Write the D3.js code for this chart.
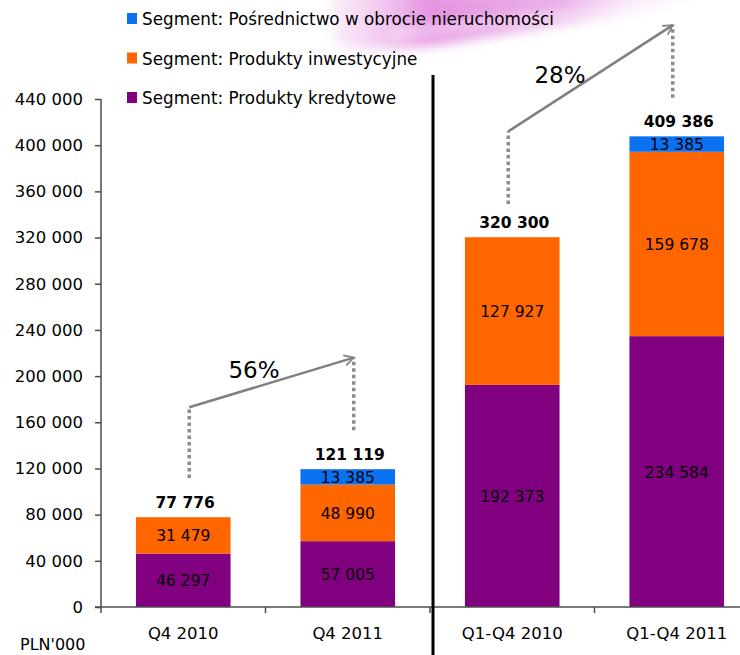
<!DOCTYPE html>
<html>
<head>
<meta charset="utf-8">
<script src="https://cdn.jsdelivr.net/npm/d3@7"></script>
<style>
  body { margin: 0; background: #fff; }
  text { font-family: "DejaVu Sans", sans-serif; }
</style>
</head>
<body>
<script>
//chart data
var categories = ["Q4 2010", "Q4 2011", "Q1-Q4 2010", "Q1-Q4 2011"];
var seriesNames = ["Segment: Produkty kredytowe", "Segment: Produkty inwestycyjne", "Segment: Pośrednictwo w obrocie nieruchomości"];
var kredytowe = [46297, 57005, 192373, 234584];
var inwestycyjne = [31479, 48990, 127927, 159678];
var posrednictwo = [0, 13385, 0, 13385];
var totals = ["77 776", "121 119", "320 300", "409 386"];
var yTicks = [0, 40000, 80000, 120000, 160000, 200000, 240000, 280000, 320000, 360000, 400000, 440000];
var colors = ["#800080", "#ff6600", "#0a72f0"];

//growth annotations: bar pair, dotted stem [bottom, top] on each bar (in PLN'000 units)
var growthLabels = ["56%", "28%"];
var growthPairs = [[0, 1], [2, 3]];
var growthFrom = [[111700, 173000], [349000, 412000]];
var growthTo = [[153000, 216000], [441000, 504000]];

var width = 740,
    height = 655;

var svg = d3.select("body")
    .append("svg")
    .attr("width", width)
    .attr("height", height);

var defs = svg.append("defs");

//soft pink swoosh along the top edge
var blur = defs.append("filter").attr("id", "blur")
    .attr("x", "-50%").attr("y", "-50%").attr("width", "200%").attr("height", "200%");
blur.append("feGaussianBlur").attr("stdDeviation", 6);

var grad = defs.append("linearGradient").attr("id", "swoosh")
    .attr("x1", "0").attr("y1", "0").attr("x2", "1").attr("y2", "0");
grad.append("stop").attr("offset", "0%").attr("stop-color", "#f5d3f2").attr("stop-opacity", 0.4);
grad.append("stop").attr("offset", "25%").attr("stop-color", "#e48ee0").attr("stop-opacity", 0.95);
grad.append("stop").attr("offset", "60%").attr("stop-color", "#e7a2e4").attr("stop-opacity", 0.85);
grad.append("stop").attr("offset", "100%").attr("stop-color", "#fbe8fa").attr("stop-opacity", 0);

svg.append("path")
    .attr("d", "M330,-10 L720,-10 C660,8 570,22 480,38 C430,47 380,52 335,46 Z")
    .attr("fill", "url(#swoosh)")
    .attr("filter", "url(#blur)");
svg.append("path")
    .attr("d", "M390,34 C470,26 560,16 650,4")
    .attr("fill", "none")
    .attr("stroke", "#fff")
    .attr("stroke-width", 6)
    .attr("opacity", 0.8)
    .attr("filter", "url(#blur)");

//scales
var y = d3.scaleLinear()
    .domain([0, 440000])
    .range([607, 99]);

var x = d3.scaleBand()
    .domain(categories)
    .range([101, 759])
    .paddingInner(0)
    .paddingOuter(0);

var barW = x.bandwidth() * 0.575;

//stack the series
var rows = categories.map(function(c, i){
    return { cat: c, k: kredytowe[i], inw: inwestycyjne[i], pos: posrednictwo[i] };
});
var stack = d3.stack().keys(["k", "inw", "pos"]);
var layers = stack(rows);

var fmt = function(v){ return d3.format(",")(v).replace(/,/g, " "); };

var layerG = svg.selectAll(".layer")
    .data(layers)
    .enter()
    .append("g")
    .attr("class", "layer")
    .attr("fill", function(d, i){ return colors[i]; });

layerG.selectAll("rect")
    .data(function(d){ return d.filter(function(p){ return p[1] > p[0]; }); })
    .enter()
    .append("rect")
    .attr("x", function(d){ return x(d.data.cat) + (x.bandwidth() - barW) / 2; })
    .attr("y", function(d){ return y(d[1]); })
    .attr("width", barW)
    .attr("height", function(d){ return y(d[0]) - y(d[1]); });

//segment value labels
layerG.selectAll(".seglabel")
    .data(function(d){ return d.filter(function(p){ return p[1] > p[0]; }); })
    .enter()
    .append("text")
    .attr("class", "seglabel")
    .attr("x", function(d){ return x(d.data.cat) + x.bandwidth() / 2; })
    .attr("y", function(d){ return (y(d[0]) + y(d[1])) / 2 + 6; })
    .attr("text-anchor", "middle")
    .attr("font-size", 15.5)
    .attr("fill", "#000")
    .text(function(d){ return fmt(d[1] - d[0]); });

//total labels above each bar
var topLayer = layers[layers.length - 1];
svg.selectAll(".total")
    .data(topLayer)
    .enter()
    .append("text")
    .attr("class", "total")
    .attr("x", function(d){ return x(d.data.cat) + x.bandwidth() / 2 + 2; })
    .attr("y", function(d){ return y(d[1]) - 9; })
    .attr("text-anchor", "middle")
    .attr("font-size", 15.5)
    .attr("font-weight", "bold")
    .attr("fill", "#000")
    .text(function(d, i){ return totals[i]; });

//y axis
var yAxis = svg.append("g")
    .attr("transform", "translate(101,0)")
    .call(d3.axisLeft(y).tickValues(yTicks).tickSize(6).tickPadding(12).tickFormat(fmt));
yAxis.select(".domain").attr("stroke", "#4d4d4d").attr("stroke-width", 1.5).attr("d", "M0,99V607");
yAxis.selectAll(".tick line").attr("stroke", "#4d4d4d").attr("stroke-width", 1.5);
yAxis.selectAll(".tick text")
    .attr("font-family", "DejaVu Sans")
    .attr("font-size", 16.5)
    .attr("fill", "#000");

//x axis
var xAxis = svg.append("g").attr("class", "xaxis");
xAxis.append("line")
    .attr("x1", 95).attr("x2", width)
    .attr("y1", y(0)).attr("y2", y(0))
    .attr("stroke", "#4d4d4d").attr("stroke-width", 1.5);
xAxis.selectAll(".xtick")
    .data(categories)
    .enter()
    .append("line")
    .attr("x1", function(d){ return x(d); })
    .attr("x2", function(d){ return x(d); })
    .attr("y1", y(0))
    .attr("y2", y(0) + 6)
    .attr("stroke", "#4d4d4d").attr("stroke-width", 1.5);
xAxis.selectAll(".xlabel")
    .data(categories)
    .enter()
    .append("text")
    .attr("x", function(d){ return x(d) + x.bandwidth() / 2; })
    .attr("y", y(0) + 32)
    .attr("text-anchor", "middle")
    .attr("font-size", 16.5)
    .attr("fill", "#000")
    .text(function(d){ return d; });

svg.append("text")
    .attr("x", 20)
    .attr("y", 650)
    .attr("font-size", 16)
    .attr("fill", "#000")
    .text("PLN'000");

//black separator between quarterly and yearly bars
svg.append("line")
    .attr("x1", 433).attr("x2", 433)
    .attr("y1", 75).attr("y2", height)
    .attr("stroke", "#000").attr("stroke-width", 3);

//legend (top entry is the top segment)
var legend = svg.selectAll(".legend")
    .data(seriesNames.slice().reverse())
    .enter()
    .append("g")
    .attr("class", "legend")
    .attr("transform", function(d, i){ return "translate(127," + (19 + i * 39.5) + ")"; });
legend.append("rect")
    .attr("x", 0).attr("y", -6)
    .attr("width", 10).attr("height", 11)
    .attr("fill", function(d, i){ return colors[colors.length - 1 - i]; });
legend.append("text")
    .attr("x", 15).attr("y", 6)
    .attr("font-size", 16.8)
    .attr("fill", "#000")
    .text(function(d){ return d; });

//growth arrows
var marker = defs.append("marker")
    .attr("id", "arrow")
    .attr("viewBox", "0 0 12 12")
    .attr("refX", 10).attr("refY", 6)
    .attr("markerWidth", 5).attr("markerHeight", 5)
    .attr("markerUnits", "strokeWidth")
    .attr("orient", "auto");
marker.append("path")
    .attr("d", "M1,1 L10,6 L1,11")
    .attr("fill", "none")
    .attr("stroke", "#808080")
    .attr("stroke-width", 1.6);

var growth = svg.selectAll(".growth")
    .data(growthLabels)
    .enter()
    .append("g")
    .attr("class", "growth");

growth.each(function(label, i){
    var g = d3.select(this);
    var dx = i === 0 ? 6 : -4;
    var xa = x(categories[growthPairs[i][0]]) + x.bandwidth() / 2 + dx;
    var xb = x(categories[growthPairs[i][1]]) + x.bandwidth() / 2 + dx;
    var stems = [[xa, growthFrom[i]], [xb, growthTo[i]]];
    stems.forEach(function(s){
        g.append("line")
            .attr("x1", s[0]).attr("x2", s[0])
            .attr("y1", y(s[1][0])).attr("y2", y(s[1][1]))
            .attr("stroke", "#8c8c8c")
            .attr("stroke-width", 3.5)
            .attr("stroke-dasharray", "3.5,3");
    });
    var x0 = xa, y0 = y(growthFrom[i][1]),
        x1 = xb, y1 = y(growthTo[i][1]);
    g.append("line")
        .attr("x1", x0).attr("y1", y0)
        .attr("x2", x1).attr("y2", y1)
        .attr("stroke", "#808080")
        .attr("stroke-width", 2.5)
        .attr("marker-end", "url(#arrow)");
    g.append("text")
        .attr("x", (x0 + x1) / 2 + (i === 0 ? 8 : -5))
        .attr("y", (y0 + y1) / 2 + (i === 0 ? -4 : 5))
        .attr("text-anchor", "end")
        .attr("font-size", 23)
        .attr("fill", "#000")
        .text(label);
});
</script>
</body>
</html>
